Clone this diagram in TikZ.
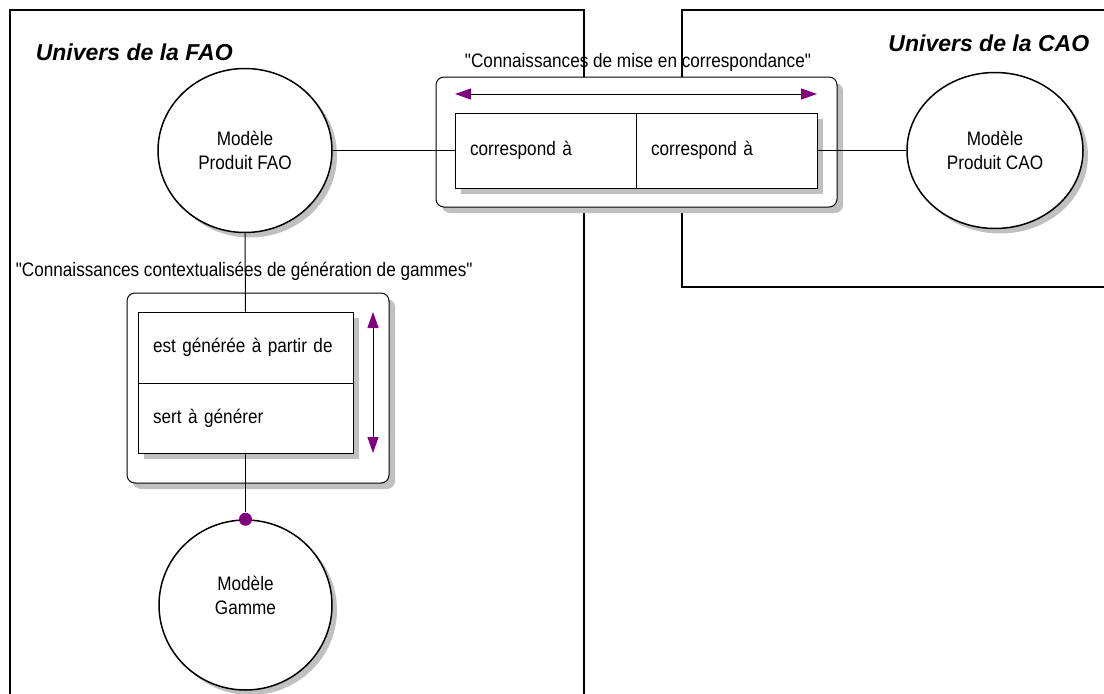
\documentclass[tikz,border=0pt]{standalone}
\usepackage{fontspec}
\setmainfont{Liberation Sans}
\newfontfamily\narrowfont{Liberation Sans}[FakeStretch=0.88, Ligatures=TeXOff]
\usetikzlibrary{arrows.meta, shapes.geometric, shadows}
\definecolor{shgray}{HTML}{C0C0C0}
\definecolor{plum}{HTML}{800080}

\begin{document}
\begin{tikzpicture}[x=1pt, y=-1pt, line width=1pt,
  txt/.style={font=\narrowfont\fontsize{19.5}{24}\selectfont},
  univ/.style={font=\fontsize{23}{27}\selectfont\bfseries\itshape},
  frame/.style={line width=1.5pt},
  model/.style={ellipse, draw, line width=1.5pt, fill=white, inner sep=0pt, align=center, txt,
    drop shadow={shadow xshift=5pt, shadow yshift=-5pt, fill=shgray, opacity=1}},
  group/.style={rectangle, draw, fill=white, rounded corners=8pt, line width=1pt, inner sep=0pt,
    drop shadow={shadow xshift=6pt, shadow yshift=-6pt, fill=shgray, opacity=1}},
  cell/.style={rectangle, draw, fill=white, txt, align=left, inner xsep=15pt, inner ysep=0pt,
    drop shadow={shadow xshift=6pt, shadow yshift=-6pt, fill=shgray, opacity=1}},
  twoway/.style={{Triangle[length=16pt, width=11pt, color=plum]}-{Triangle[length=16pt, width=11pt, color=plum]}}
]

\useasboundingbox (0,0) rectangle (1104,694);

% Universes (drawn first, the boxes cover them)
\draw[frame] (10,694) -- (10,10) -- (584,10) -- (584,694);
\draw[frame] (1104,10) -- (682,10) -- (682,287) -- (1104,287);
\node[univ, anchor=west] (fao-univ) at (32,52) {Univers de la FAO};
\node[univ, anchor=east] (cao-univ) at (1093,43) {Univers de la CAO};

% Models
\node[model, minimum width=174pt, minimum height=164pt] (fao) at (245,150.5) {Modèle\\Produit FAO};
\node[model, minimum width=176pt, minimum height=156pt] (cao) at (995,150.5) {Modèle\\Produit CAO};
\node[model, minimum width=173pt, minimum height=170pt] (gamme) at (245.5,605) {Modèle\\Gamme\\[-4pt]};

% --- Mapping knowledge ---
\node[txt] (corr-label) at (638,62) {"Connaissances de mise en correspondance"};
\node[group, minimum width=401pt, minimum height=130pt] (corrbox) at (636.5,142) {};
\node[cell, text width=151pt, minimum height=75pt] (corrA) at (545.5,150.5) {correspond à};
\node[cell, text width=151pt, minimum height=75pt] (corrB) at (726.5,150.5) {correspond à};
\coordinate (corrL) at (455,94);
\coordinate (corrR) at (817,94);
\draw[twoway] (corrL) -- (corrR);

% --- Generation knowledge ---
\node[txt, anchor=west] (gen-label) at (12,271) {"Connaissances contextualisées de génération de gammes"};
\node[group, minimum width=262pt, minimum height=190pt] (genbox) at (258,388) {};
\node[cell, text width=185pt, minimum height=71pt] (genA) at (245.5,347.5) {est générée à partir de};
\node[cell, text width=185pt, minimum height=70pt] (genB) at (245.5,418) {sert à générer};
\coordinate (genT) at (373,312);
\coordinate (genD) at (373,453);
\draw[twoway] (genT) -- (genD);

% Links
\node[circle, fill=plum, inner sep=0pt, minimum size=13pt] (dot) at (gamme.north) {};
\draw (fao.east) -- (corrA.west);
\draw (corrB.east) -- (cao.west);
\draw (fao.south) -- (genA.north);
\draw (genB.south) -- (dot);

\end{tikzpicture}
\end{document}
